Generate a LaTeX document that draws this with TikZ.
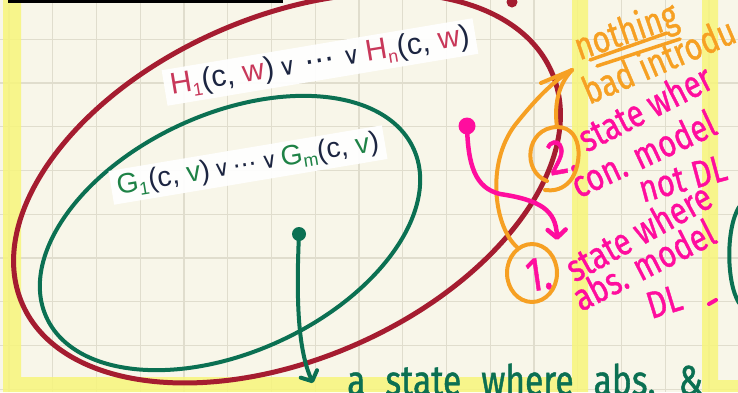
\documentclass[tikz,border=0pt]{standalone}
\usepackage{fontspec}
\usetikzlibrary{arrows.meta,shapes.geometric}
\newfontfamily\formfont{Liberation Sans}
\newfontfamily\orfont{DejaVu Sans}
\newfontfamily\handfont{Fira Sans}[FakeStretch=0.8, FakeBold=1]
\definecolor{paper}{HTML}{F8F6E9}
\definecolor{gridtan}{HTML}{E0DDCD}
\definecolor{marker}{HTML}{F7F57B}
\definecolor{wine}{HTML}{A51C30}
\definecolor{pine}{HTML}{0B7052}
\definecolor{hotpink}{HTML}{FF0D9E}
\definecolor{amber}{HTML}{F6A023}
\definecolor{inkblue}{HTML}{1C2541}
\definecolor{rosered}{HTML}{C8385A}
\definecolor{leaf}{HTML}{1E8246}
\newcommand{\lowidx}[2]{\textcolor{#1}{\raisebox{-5pt}{\fontsize{18}{18}\selectfont #2}}}
\newcommand{\orsym}[1]{{\orfont\fontsize{#1}{#1}\selectfont ∨}}
\newcommand{\dotsym}[1]{{\orfont\fontsize{#1}{#1}\selectfont ⋯}}

\begin{document}
\begin{tikzpicture}[x=1pt, y=-1pt,
  gridline/.style={draw=gridtan, line width=1.4pt},
  formbox/.style={fill=white, fill opacity=0.92, text opacity=1, inner xsep=6pt, inner ysep=4pt, text=inkblue, font=\formfont\fontsize{30}{30}\selectfont, rotate=9.5},
  hand/.style={font=\handfont\fontsize{38}{38}\selectfont, inner sep=0pt, anchor=base},
  pinkhand/.style={hand, text=hotpink},
  amberhand/.style={hand, text=amber},
  pinehand/.style={hand, text=pine},
  pen/.style={line width=#1, line cap=round, line join=round},
  dotmark/.style={circle, inner sep=0pt, minimum size=#1},
  loopmark/.style={ellipse, draw=amber, line width=4pt, inner sep=0pt, minimum width=50pt, minimum height=58pt},
  barb/.style={-{Straight Barb[round, length=8pt, width=18pt]}}
]
\useasboundingbox (0,0) rectangle (738,392);
\fill[paper] (0,0) rectangle (738,392);
% squared paper
\foreach \gx in {9,52.75,...,740} \draw[gridline] (\gx,0) -- (\gx,392);
\foreach \gy in {39.25,83,...,392} \draw[gridline] (0,\gy) -- (738,\gy);
% highlighter frames
\fill[marker, opacity=0.85] (3,0) rectangle (21,392) (3,377) rectangle (588,392) (572,0) rectangle (588,392)
  (702,0) rectangle (718,392) (702,380) rectangle (738,392);
\fill[black] (8,0) rectangle (283,2.5);

% the two sets
\draw[wine, pen=5pt] (287,188) ellipse [x radius=289, y radius=171, rotate=23.7];
\fill[wine] (512,2) circle (5.5);
\draw[pine, pen=4pt] (230,233) ellipse [x radius=202, y radius=119, rotate=24.7];

\node[formbox] (hdisj) at (320,62) {\textcolor{rosered}{H}\lowidx{rosered}{1}(c, \textcolor{rosered}{w})\hspace{5pt}\orsym{24}\hspace{9pt}\dotsym{30}\hspace{9pt}\orsym{24}\hspace{5pt}\textcolor{rosered}{H}\lowidx{rosered}{n}(c, \textcolor{rosered}{w})};
\node[formbox, font=\formfont\fontsize{28}{28}\selectfont] (gdisj) at (248,165) {\textcolor{leaf}{G}\lowidx{leaf}{1}(c, \textcolor{leaf}{v})\hspace{4pt}\orsym{22}\hspace{4pt}\dotsym{24}\hspace{4pt}\orsym{22}\hspace{4pt}\textcolor{leaf}{G}\lowidx{leaf}{m}(c, \textcolor{leaf}{v})};

% orange notes
\node[amberhand, rotate=19] (nothing) at (630,43) {nothing};
\draw[amber, pen=3.5pt] (590,60) -- (667,33);
\draw[amber, pen=3.5pt] (597,66) -- (680,39);
\node[amberhand, rotate=23] (badintro) at (664,73) {bad introdu};

% pink notes
\node[pinkhand, font=\handfont\fontsize{50}{50}\selectfont, rotate=10] (two) at (565,173) {2.};
\node[pinkhand, rotate=27] (twoa) at (651,120) {state wher};
\node[pinkhand, rotate=25] (twob) at (649,166) {con. model};
\node[pinkhand, rotate=15] (twoc) at (686,191) {not DL};
\node[pinkhand, font=\handfont\fontsize{48}{48}\selectfont, rotate=8] (one) at (541,290) {1.};
\node[pinkhand, rotate=29] (onea) at (645,244) {state where};
\node[pinkhand, rotate=27] (oneb) at (650,277) {abs. model};
\node[pinkhand, rotate=17] (onec) at (668,314) {DL};
\draw[hotpink, pen=4pt] (709,304) -- (716,300);

% green note
\node[pinehand, font=\handfont\fontsize{42}{42}\selectfont, anchor=base west] (bottomnote) at (347,395) {\spaceskip=20pt a state where abs. \&};
\draw[pine, pen=4pt] (739,207) .. controls (726,228) and (726,282) .. (739,303);

% circles and arrows
\node[loopmark] (circ1) at (532,273) {};
\draw[amber, pen=4pt] (547,181) .. controls (522,172) and (525,128) .. (557,127) .. controls (586,127) and (582,172) .. (567,184) .. controls (560,190) and (552,191) .. (545,190);
\coordinate (otip) at (572,70);
\coordinate (oarm) at (541,83);
\draw[amber, pen=4pt] (circ1.120) .. controls (495,228) and (485,165) .. (515,125) .. controls (535,100) and (552,82) .. (otip);
\draw[amber, pen=4pt] (557,127) .. controls (554,105) and (558,85) .. (otip);
\draw[amber, pen=4pt] (oarm) -- (otip);

\node[dotmark=17pt, fill=hotpink] (pdot) at (467,126) {};
\coordinate (ptip) at (557,240);
\draw[hotpink, pen=4.5pt, barb] (pdot.center) .. controls (468,165) and (475,188) .. (500,194) .. controls (540,200) and (556,210) .. (ptip);

\node[dotmark=14pt, fill=pine] (gdot) at (299,234) {};
\coordinate (gend) at (313,383);
\draw[pine, pen=4pt, barb] (gdot.center) .. controls (296,300) and (298,350) .. (gend);
\end{tikzpicture}
\end{document}
